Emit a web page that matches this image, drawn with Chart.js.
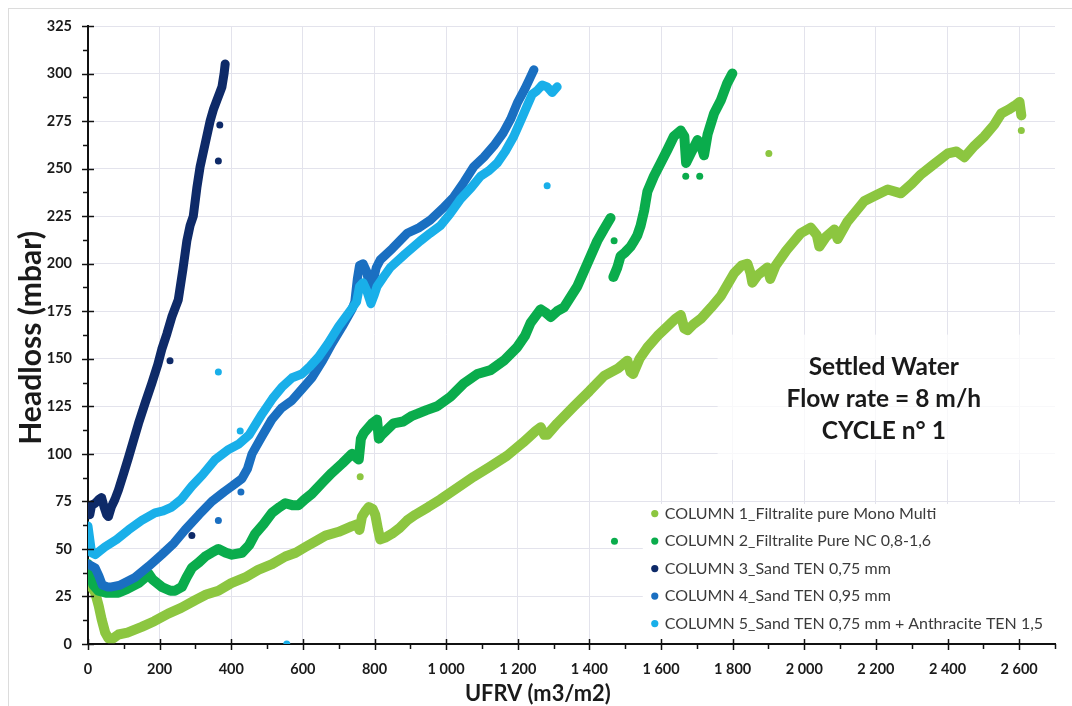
<!DOCTYPE html>
<html>
<head>
<meta charset="utf-8">
<script src="https://cdn.jsdelivr.net/npm/chart.js@4.4.1/dist/chart.umd.min.js"></script>
<style>
  html, body { margin: 0; padding: 0; background: #fff; }
  #wrap { position: relative; width: 1072px; height: 706px; overflow: hidden; }
  #frame { position: absolute; left: 8px; top: 8px; right: -2px; bottom: -2px; border-left: 1px solid #dcdcdc; border-top: 1px solid #dcdcdc; }
  canvas { position: absolute; left: 0; top: 0; }
</style>
</head>
<body>
<div id="wrap">
  <div id="frame"></div>
  <canvas id="chart" width="1072" height="706"></canvas>
</div>
<script>
// series labels + colours
const labels = [
  'COLUMN 1_Filtralite pure Mono Multi',
  'COLUMN 2_Filtralite Pure NC 0,8-1,6',
  'COLUMN 3_Sand TEN 0,75 mm',
  'COLUMN 4_Sand TEN 0,95 mm',
  'COLUMN 5_Sand TEN 0,75 mm + Anthracite TEN 1,5'
];
const colors = ['#8cc640', '#0aac4c', '#0e2a68', '#1a6fc1', '#19afe9'];

// UFRV (m3/m2) , headloss (mbar) ; null = break in the trace
const col1 = [[0,32],[10,30],[20,27],[30,20],[38,13],[48,6],[57,3],[70,3],[85,5],[110,6],[150,9],[185,12],[224,16],[260,19],[299,23],[330,26],[364,28],[400,32],[439,35],[475,39],[514,42],[551,46],[580,48],[607,51],[635,54],[663,57],[700,59],[737,62],[752,63],[758,60],[765,67],[775,70],[784,72],[795,71],[802,68],[810,60],[816,55],[830,56],[849,58],[870,61],[891,65],[914,68],[950,72],[984,76],[1030,82],[1077,88],[1120,93],[1170,99],[1215,106],[1250,112],[1264,114],[1274,110],[1282,110],[1310,116],[1357,125],[1400,133],[1441,141],[1480,145],[1506,149],[1515,143],[1522,142],[1540,150],[1562,156],[1590,162],[1618,167],[1640,171],[1655,173],[1665,166],[1674,165],[1690,168],[1711,171],[1740,177],[1767,183],[1804,195],[1825,199],[1841,200],[1850,195],[1855,190],[1870,194],[1897,198],[1905,192],[1920,199],[1950,207],[1990,216],[2018,219],[2035,215],[2042,209],[2060,214],[2084,218],[2093,213],[2120,222],[2168,233],[2200,236],[2233,239],[2270,237],[2300,242],[2326,247],[2360,252],[2401,258],[2425,259],[2447,256],[2475,262],[2503,267],[2530,273],[2550,279],[2570,281],[2587,283],[2601,285],[2606,278]];
const col2 = [[0,42],[8,36],[15,31],[29,28],[50,27],[85,27],[110,29],[141,32],[160,35],[169,37],[180,34],[206,30],[230,28],[243,28],[262,30],[275,35],[290,40],[310,43],[327,46],[345,48],[364,50],[385,48],[402,47],[430,48],[450,52],[467,58],[490,63],[514,69],[535,72],[551,74],[570,73],[588,73],[605,76],[625,79],[655,85],[681,90],[710,95],[737,100],[750,98],[756,97],[762,108],[770,111],[793,116],[807,118],[812,108],[820,110],[853,116],[880,117],[905,120],[919,121],[945,123],[975,125],[1012,130],[1049,137],[1087,142],[1124,144],[1161,149],[1198,156],[1220,162],[1236,169],[1264,176],[1280,174],[1292,172],[1310,175],[1329,177],[1366,188],[1394,200],[1422,212],[1440,218],[1459,224],null,[1467,193],[1478,198],[1487,204],[1500,206],[1515,209],[1525,212],[1534,215],[1543,220],[1553,228],[1562,238],[1580,246],[1599,253],[1618,260],[1636,267],[1655,270],[1665,267],[1670,253],[1683,258],[1702,265],[1712,262],[1720,257],[1730,268],[1748,279],[1767,286],[1785,295],[1799,300]];
const col3 = [[0,70],[5,68],[10,73],[20,74],[30,76],[38,77],[45,72],[52,68],[57,67],[65,72],[75,76],[85,81],[100,90],[113,98],[127,107],[141,116],[160,127],[178,137],[195,147],[206,155],[220,163],[234,172],[252,181],[265,197],[276,212],[285,220],[294,225],[304,240],[313,251],[327,263],[341,275],[350,281],[360,286],[368,290],[374,293],[380,300],[383,305]];
const col4 = [[0,42],[10,41],[20,40],[30,36],[40,31],[55,30],[66,30],[90,31],[131,35],[170,41],[206,47],[240,53],[271,60],[310,68],[346,75],[380,80],[402,83],[430,87],[445,92],[458,100],[485,109],[513,118],[540,124],[569,128],[597,134],[625,140],[655,149],[681,158],[710,167],[737,176],[745,180],[752,192],[758,199],[768,200],[778,196],[788,186],[795,190],[805,198],[816,202],[850,208],[891,216],[925,219],[956,223],[990,229],[1021,235],[1050,243],[1077,251],[1105,256],[1133,262],[1160,269],[1180,276],[1200,285],[1220,292],[1235,298],[1245,302]];
const col5 = [[0,62],[5,55],[10,48],[20,47],[47,51],[80,55],[113,60],[150,65],[187,69],[210,70],[234,72],[260,76],[290,83],[320,89],[355,97],[390,102],[420,105],[450,110],[486,121],[515,129],[541,135],[570,140],[597,142],[620,146],[644,151],[670,158],[700,167],[735,176],[750,180],[758,188],[768,190],[778,186],[790,179],[800,184],[807,188],[825,193],[844,198],[885,205],[928,212],[955,216],[984,220],[1010,226],[1040,234],[1070,240],[1096,246],[1120,249],[1143,253],[1165,259],[1189,267],[1210,276],[1226,283],[1240,289],[1254,291],[1268,294],[1282,293],[1296,290],[1310,293]];

// stray single readings
const out1 = [[760,88],[1901,258],[2606,270]];
const out2 = [[1470,54],[1469,212],[1669,246],[1708,246]];
const out3 = [[229,149],[290,57],[364,254],[368,273]];
const out4 = [[364,65],[427,80]];
const out5 = [[364,143],[425,112],[555,0],[1282,241]];

const X_MAX = 2700, Y_MAX = 325;
const xTitle = 'UFRV (m3/m2)';
const yTitle = 'Headloss (mbar)';
const notes = ['Settled Water', 'Flow rate = 8 m/h', 'CYCLE n° 1'];

const toXY = arr => arr.map(p => p ? { x: p[0], y: p[1] } : { x: null, y: null });

const traces = [col1, col2, col3, col4, col5];
const strays = [out1, out2, out3, out4, out5];
const widths = [10, 10, 9, 9, 9];
const drawOrder = [5, 4, 3, 2, 1];

const datasets = [];
traces.forEach((t, i) => {
  datasets.push({
    label: labels[i],
    data: toXY(t),
    showLine: true,
    spanGaps: false,
    borderColor: colors[i],
    backgroundColor: colors[i],
    borderWidth: widths[i],
    borderJoinStyle: 'round',
    borderCapStyle: 'round',
    pointRadius: 0,
    order: drawOrder[i]
  });
  datasets.push({
    label: labels[i] + ' (stray)',
    data: toXY(strays[i]),
    showLine: false,
    borderColor: colors[i],
    backgroundColor: colors[i],
    pointRadius: 3.5,
    pointBorderWidth: 0,
    order: drawOrder[i]
  });
});

const fmt = v => v >= 1000 ? Math.floor(v / 1000) + ' ' + String(v % 1000).padStart(3, '0') : String(v);

// font size that makes a text span a given width
function fitFont(ctx, text, weight, width) {
  ctx.font = weight + ' 20px Lato';
  return 20 * width / ctx.measureText(text).width;
}

// white panels behind legend and note, ticks, legend, titles
const panels = {
  id: 'panels',
  beforeDatasetsDraw(chart) {
    const { ctx, chartArea, scales: { x, y } } = chart;
    ctx.save();
    ctx.fillStyle = 'rgba(255,255,255,0.75)';
    const ax = x.getPixelForValue(1758), ay = y.getPixelForValue(162.5), by = y.getPixelForValue(96.8);
    ctx.fillRect(ax, ay, chartArea.right - ax + 1, by - ay);
    ctx.fillStyle = '#fff';
    const lx = x.getPixelForValue(1549), ly = y.getPixelForValue(73.6);
    ctx.fillRect(lx, ly, chartArea.right - lx + 1, y.getPixelForValue(0) - 1.5 - ly);
    ctx.restore();
  },
  afterDraw(chart) {
    const { ctx, chartArea, scales: { x, y } } = chart;
    ctx.save();
    // tick marks
    ctx.strokeStyle = '#111';
    ctx.lineWidth = 1.5;
    const yb = y.getPixelForValue(0), xl = x.getPixelForValue(0);
    for (let v = 0; v <= X_MAX; v += 100) {
      const px = Math.round(x.getPixelForValue(v)) + 0.5;
      const major = v % 200 === 0;
      ctx.beginPath();
      ctx.moveTo(px, major ? yb - 5 : yb);
      ctx.lineTo(px, yb + (major ? 6 : 5));
      ctx.stroke();
    }
    for (let v = 0; v <= Y_MAX; v += 12.5) {
      const py = Math.round(y.getPixelForValue(v)) + 0.5;
      const major = v % 25 === 0;
      ctx.beginPath();
      ctx.moveTo(major ? xl - 6 : xl - 5, py);
      ctx.lineTo(major ? xl + 6 : xl, py);
      ctx.stroke();
    }
    // legend
    const lx = x.getPixelForValue(1549), ly = y.getPixelForValue(73.6);
    ctx.font = '16px Lato';
    ctx.textBaseline = 'middle';
    labels.forEach((lab, i) => {
      const ry = ly + 9.5 + i * 27.5;
      ctx.fillStyle = colors[i];
      ctx.beginPath();
      ctx.arc(lx + 12, ry, 3.6, 0, Math.PI * 2);
      ctx.fill();
      ctx.fillStyle = '#3b3b3b';
      ctx.fillText(lab, lx + 22, ry);
    });
    // note
    ctx.font = 'bold 24.5px Lato';
    ctx.fillStyle = '#1a1a1a';
    ctx.textAlign = 'center';
    const nx = x.getPixelForValue(2222);
    notes.forEach((t, i) => ctx.fillText(t, nx, y.getPixelForValue(145.7) + i * 32));
    // axis titles
    const xs = fitFont(ctx, xTitle, 'bold', 146);
    ctx.font = 'bold ' + xs + 'px Lato';
    ctx.fillText(xTitle, x.getPixelForValue(1256), 694);
    const ys = fitFont(ctx, yTitle, 'bold', 214);
    ctx.font = 'bold ' + ys + 'px Lato';
    ctx.translate(31, y.getPixelForValue(161));
    ctx.rotate(-Math.PI / 2);
    ctx.fillText(yTitle, 0, 0);
    ctx.restore();
  }
};

new Chart(document.getElementById('chart'), {
  type: 'scatter',
  data: { datasets },
  options: {
    responsive: false,
    animation: false,
    layout: { padding: { top: 26, right: 17, left: 0, bottom: 0 } },
    plugins: { legend: { display: false }, tooltip: { enabled: false } },
    scales: {
      x: {
        type: 'linear', min: 0, max: X_MAX,
        afterFit: s => { s.height = 62; },
        ticks: { stepSize: 200, includeBounds: false, padding: 17, color: '#1a1a1a', font: { family: 'Lato', weight: 'bold', size: 14.5 }, callback: v => fmt(v), maxRotation: 0, autoSkip: false },
        grid: { color: '#e3e3ec', lineWidth: 1, drawTicks: false },
        border: { color: '#111', width: 2 }
      },
      y: {
        type: 'linear', min: 0, max: Y_MAX,
        afterFit: s => { s.width = 88; },
        ticks: { stepSize: 25, padding: 16, color: '#1a1a1a', font: { family: 'Lato', weight: 'bold', size: 14.5 } },
        grid: { color: '#e3e3ec', lineWidth: 1, drawTicks: false },
        border: { color: '#111', width: 2 }
      }
    }
  },
  plugins: [panels]
});
</script>
</body>
</html>
